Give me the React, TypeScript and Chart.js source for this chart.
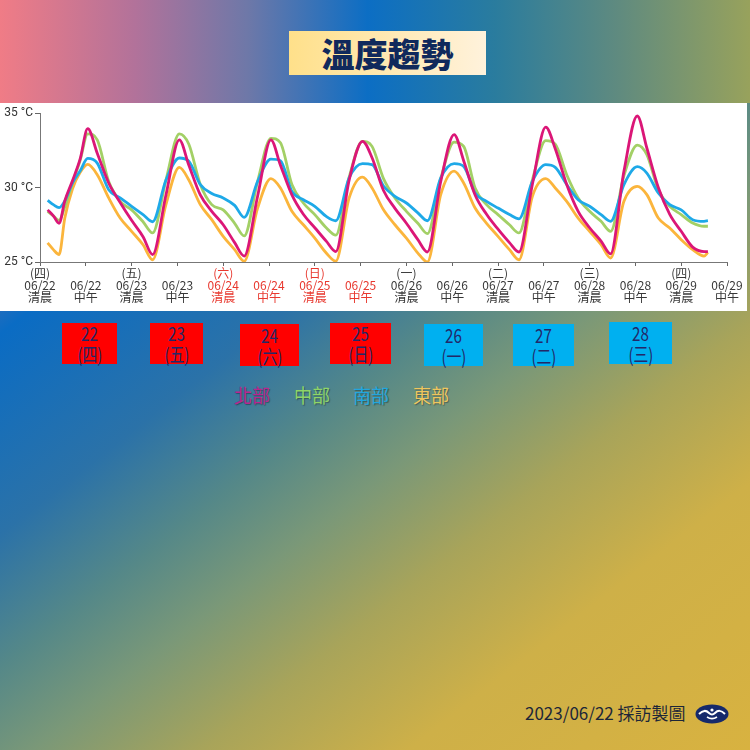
import React, { useEffect, useRef } from 'react';
import { Chart, registerables } from 'chart.js';

Chart.register(...registerables);

// Hours since 06/22 00:00
const hours = [
  2, 3.5, 5, 6.5, 8.5, 10.5, 12.5, 15, 18, 21,
  24, 27, 29.5, 33, 36.5, 39, 42, 45,
  48, 51, 53.5, 57, 60.5, 63, 66, 69,
  72, 75, 77.5, 81, 84.5, 87, 90, 93,
  96, 99, 101.5, 105, 108.5, 111, 114, 117,
  120, 123, 125.5, 129, 132.5, 135, 138, 141,
  144, 147, 149.5, 153, 156.5, 159, 162, 165,
  168, 171, 174, 175,
];

const north = [
  28.5, 28.1, 27.6, 29.1, 30.45, 31.9, 33.95, 32.3, 30.3, 29.0,
  27.8, 26.7, 25.5, 29.5, 33.2, 31.5, 29.5, 28.4,
  27.5, 26.3, 25.4, 29.4, 33.2, 31.5, 29.5, 28.2,
  27.3, 26.4, 25.7, 30.5, 33.1, 32.0, 29.8, 28.6,
  27.6, 26.5, 25.67, 30.4, 33.55, 31.8, 29.5, 28.2,
  27.2, 26.3, 25.67, 30.2, 34.05, 32.6, 30.2, 28.4,
  27.3, 26.4, 25.55, 31.1, 34.8, 32.65, 30.0, 28.2,
  27.06, 26.0, 25.7, 25.7,
];

const central = [
  28.4, 28.1, 27.8, 28.7, 30.3, 31.8, 33.6, 33.2, 30.4, 29.07,
  28.5, 27.7, 26.95, 30.5, 33.6, 32.9, 30.2, 28.85,
  28.5, 27.6, 26.75, 30.4, 33.3, 33.0, 30.2, 28.96,
  28.18, 27.3, 26.8, 30.7, 33.1, 32.76, 30.6, 29.3,
  28.4, 27.6, 26.9, 30.6, 33.05, 32.76, 29.97, 28.85,
  28.18, 27.5, 26.95, 30.5, 33.14, 32.9, 30.86, 29.3,
  28.4, 27.73, 27.06, 30.8, 32.85, 32.2, 29.85, 28.74,
  28.18, 27.62, 27.4, 27.4,
];

const south = [
  29.14, 28.85, 28.65, 29.1, 30.3, 31.1, 31.95, 31.64, 29.85, 29.3,
  28.74, 28.18, 27.7, 30.5, 31.98, 31.76, 30.2, 29.6,
  29.3, 28.8, 28.0, 30.4, 31.9, 31.8, 29.74, 29.18,
  28.74, 28.06, 27.77, 30.64, 31.6, 31.53, 30.1, 29.4,
  28.96, 28.3, 27.77, 30.64, 31.6, 31.42, 29.63, 29.07,
  28.62, 28.18, 27.9, 30.41, 31.53, 31.35, 30.2, 29.18,
  28.74, 28.18, 27.73, 30.2, 31.4, 30.97, 29.63, 28.85,
  28.5, 27.84, 27.73, 27.77,
];

const east = [
  26.28, 25.83, 25.5, 27.95, 29.9, 31.0, 31.55, 30.86, 29.3, 27.95,
  27.06, 26.16, 25.15, 28.85, 31.35, 30.5, 28.85, 27.84,
  26.72, 25.83, 25.05, 28.6, 30.6, 29.97, 28.4, 27.5,
  26.6, 25.6, 25.05, 29.3, 30.7, 29.97, 28.5, 27.5,
  26.6, 25.6, 25.0, 29.52, 31.1, 30.3, 28.62, 27.6,
  26.72, 25.83, 25.15, 29.4, 30.6, 29.97, 29.07, 27.95,
  27.06, 26.16, 25.27, 29.07, 30.08, 29.52, 27.95, 27.28,
  26.5, 25.83, 25.4, 25.65,
];

const tickWeekdays = ['(四)', '', '(五)', '', '(六)', '', '(日)', '', '(一)', '', '(二)', '', '(三)', '', '(四)', ''];
const tickDates = ['06/22', '06/22', '06/23', '06/23', '06/24', '06/24', '06/25', '06/25', '06/26', '06/26', '06/27', '06/27', '06/28', '06/28', '06/29', '06/29'];
const tickParts = ['清晨', '中午', '清晨', '中午', '清晨', '中午', '清晨', '中午', '清晨', '中午', '清晨', '中午', '清晨', '中午', '清晨', '中午'];
const tickHoliday = [false, false, false, false, true, true, true, true, false, false, false, false, false, false, false, false];

const boxDays = ['22', '23', '24', '25', '26', '27', '28'];
const boxWeekdays = ['(四)', '(五)', '(六)', '(日)', '(一)', '(二)', '(三)'];
const boxHoliday = [true, true, true, true, false, false, false];

const regionNames = ['北部', '中部', '南部', '東部'];

// layout (not data)
const boxLayout = [
  { left: 62, top: 323, width: 55, height: 41 },
  { left: 150, top: 323, width: 53, height: 41 },
  { left: 240, top: 324, width: 59, height: 42 },
  { left: 330, top: 323, width: 61, height: 41 },
  { left: 424, top: 324, width: 59, height: 42 },
  { left: 513, top: 324, width: 61, height: 42 },
  { left: 609, top: 322, width: 63, height: 42 },
];
const legendLefts = [234, 294, 353, 413];
const legendColors = ['#b8268f', '#8fd468', '#22a6de', '#efc65e'];

const CJK = '"Noto Sans CJK TC", "Noto Sans", sans-serif';

function TempChart() {
  const ref = useRef<HTMLCanvasElement | null>(null);
  useEffect(() => {
    if (!ref.current) return;
    const mk = (arr: number[]) => hours.map((h, i) => ({ x: h, y: arr[i] }));
    const chart = new Chart(ref.current, {
      type: 'line',
      data: {
        datasets: [
          { label: '北部', data: mk(north), borderColor: '#db1677', borderWidth: 2.8 },
          { label: '南部', data: mk(south), borderColor: '#1ea9e8', borderWidth: 2.8 },
          { label: '中部', data: mk(central), borderColor: '#a3d066', borderWidth: 2.8 },
          { label: '東部', data: mk(east), borderColor: '#fbb53c', borderWidth: 2.8 },
        ],
      },
      options: {
        animation: false,
        responsive: false,
        devicePixelRatio: 1,
        layout: { padding: { top: 10, right: 20, left: 0, bottom: 0 } },
        elements: {
          point: { radius: 0, hoverRadius: 0 },
          line: { cubicInterpolationMode: 'monotone', fill: false },
        },
        plugins: { legend: { display: false }, tooltip: { enabled: false } },
        scales: {
          x: {
            type: 'linear',
            min: 0,
            max: 180,
            afterFit: (s: any) => { s.height = 49; },
            grid: { drawOnChartArea: false, drawTicks: true, tickLength: 4, color: '#666' },
            border: { display: true, color: '#777', width: 1 },
            ticks: {
              stepSize: 12,
              autoSkip: false,
              maxRotation: 0,
              padding: 2,
              font: { family: CJK, size: 12, lineHeight: 0.97 },
              color: (ctx: any) => (tickHoliday[ctx.index] ? '#e8382e' : '#383838'),
              callback: (_v: any, i: number) => [tickWeekdays[i], tickDates[i], tickParts[i]],
            },
          },
          y: {
            min: 25,
            max: 35,
            afterFit: (s: any) => { s.width = 40; },
            grid: { drawOnChartArea: false, drawTicks: true, tickLength: 5, color: '#666' },
            border: { display: true, color: '#777', width: 1 },
            ticks: {
              stepSize: 5,
              padding: 2,
              font: { family: 'Roboto, "Noto Sans", sans-serif', size: 12 },
              color: '#333',
              callback: (v: any) => v + ' °C',
            },
          },
        },
      },
    } as any);
    return () => chart.destroy();
  }, []);
  return <canvas ref={ref} width={747} height={208} style={{ display: 'block', width: 747, height: 208 }} />;
}

function Logo() {
  return (
    <svg width={34} height={20} viewBox="0 0 34 20" style={{ position: 'absolute', left: 695, top: 704 }}>
      <ellipse cx={17} cy={10} rx={16.5} ry={9.5} fill="#15296b" />
      <path d="M4 10 C8 6, 11 6, 14 9 C16 11, 18 11, 20 9 C23 6, 26 6, 30 10" stroke="#fff" strokeWidth={2} fill="none" />
      <path d="M12 13 C15 15, 19 15, 22 13" stroke="#fff" strokeWidth={1.6} fill="none" />
      <circle cx={17} cy={6} r={1.6} fill="#fff" />
    </svg>
  );
}

export default function App() {
  return (
    <div
      style={{
        position: 'absolute',
        left: 0,
        top: 0,
        width: 750,
        height: 750,
        overflow: 'hidden',
        fontFamily: CJK,
        background:
          'linear-gradient(142deg, #f27a82 0%, #b07096 10%, #0a6cc4 25%, #2b72a8 40%, #558888 50%, #7a9878 58%, #a8a45a 68%, #ceb048 80%, #d8b240 100%)',
      }}
    >
      <div
        style={{
          position: 'absolute',
          left: 0,
          top: 0,
          width: 750,
          height: 103,
          background:
            'linear-gradient(to right, #f07c86 0%, #b2729a 18%, #6e78a8 33%, #0c6ec4 49%, #2a7c9e 66%, #5e8a80 82%, #98a25c 100%)',
        }}
      />
      <div
        style={{
          position: 'absolute',
          left: 289,
          top: 31,
          width: 197,
          height: 44,
          background: 'linear-gradient(to right, #ffe08a, #fff2dc)',
          display: 'flex',
          alignItems: 'center',
          justifyContent: 'center',
          color: '#10295c',
          fontWeight: 900,
          fontSize: 33,
          lineHeight: '44px',
          letterSpacing: 0,
        }}
      >
        溫度趨勢
      </div>
      <div style={{ position: 'absolute', left: 0, top: 103, width: 747, height: 208, background: '#fff' }}>
        <TempChart />
      </div>
      {boxDays.map((d, i) => (
        <div
          key={d}
          style={{
            position: 'absolute',
            left: boxLayout[i].left,
            top: boxLayout[i].top,
            width: boxLayout[i].width,
            height: boxLayout[i].height,
            background: boxHoliday[i] ? '#ff0000' : '#00b0f0',
            color: '#222868',
            display: 'flex',
            flexDirection: 'column',
            alignItems: 'center',
            justifyContent: 'center',
          }}
        >
          <div style={{ fontSize: 19, lineHeight: '20px', transform: 'scaleX(0.8)' }}>{d}</div>
          <div style={{ fontSize: 19, lineHeight: '21px', transform: 'scaleX(0.78)' }}>{boxWeekdays[i]}</div>
        </div>
      ))}
      {regionNames.map((n, i) => (
        <div
          key={n}
          style={{
            position: 'absolute',
            left: legendLefts[i],
            top: 383,
            fontSize: 19,
            lineHeight: '24px',
            color: legendColors[i],
            textShadow: '1px 1px 1px rgba(0,0,0,0.35)',
            transform: 'scaleX(0.95)',
            transformOrigin: 'left',
          }}
        >
          {n}
        </div>
      ))}
      <div
        style={{
          position: 'absolute',
          left: 525,
          top: 701,
          fontSize: 17,
          lineHeight: '24px',
          color: '#1c2638',
          whiteSpace: 'nowrap',
        }}
      >
        2023/06/22 採訪製圖
      </div>
      <Logo />
    </div>
  );
}
